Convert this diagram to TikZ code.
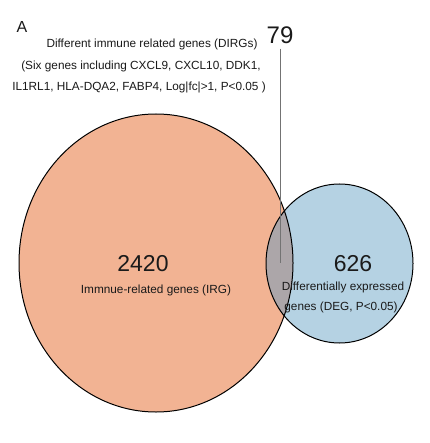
\documentclass[tikz,border=0pt]{standalone}
\usepackage{fontspec}
\setmainfont{Liberation Sans}
\definecolor{irgfill}{HTML}{F2B393}
\definecolor{degfill}{HTML}{B5D2E3}
\definecolor{interfill}{HTML}{ACA6A9}
\definecolor{txt}{HTML}{1A1A1A}
\begin{document}
\begin{tikzpicture}[x=1pt,y=-1pt,
  setline/.style={draw=black,line width=1pt},
  small/.style={font=\fontsize{11.8}{13}\selectfont,text=txt,inner sep=0pt},
  big/.style={font=\fontsize{23}{26}\selectfont,text=txt,inner sep=0pt},
  lead/.style={draw=black!55,line width=0.7pt}]
\useasboundingbox (0,0) rectangle (429,443);
\fill[white] (0,0) rectangle (429,443);
% circles
\fill[irgfill] (156,263) ellipse [x radius=137, y radius=149];
\fill[degfill] (339.5,263.5) ellipse [x radius=73.5, y radius=79.5];
\begin{scope}
  \clip (339.5,263.5) ellipse [x radius=73.5, y radius=79.5];
  \fill[interfill] (156,263) ellipse [x radius=137, y radius=149];
\end{scope}
\draw[setline] (156,263) ellipse [x radius=137, y radius=149];
\draw[setline] (339.5,263.5) ellipse [x radius=73.5, y radius=79.5];
% texts
\node[font=\fontsize{16}{18}\selectfont,text=txt,inner sep=0pt] (lblA) at (22,27) {A};
\node[font=\fontsize{24}{27}\selectfont,text=txt,inner sep=0pt] (n79) at (280,35) {79};
\node[small] (t1) at (152,44) {Different immune related genes (DIRGs)};
\node[small] (t2) at (141,66) {(Six genes including CXCL9, CXCL10, DDK1,};
\node[small] (t3) at (139,87) {IL1RL1, HLA-DQA2, FABP4, Log|fc|>1, P<0.05 )};
\node[big] (n2420) at (143,264) {2420};
\node[small] (irg) at (156,290) {Immnue-related genes (IRG)};
\node[big] (n626) at (353,264) {626};
\node[small] (deg1) at (343,287) {Differentially expressed};
\node[small] (deg2) at (341,307) {genes (DEG, P<0.05)};
% leader line
\coordinate (leadend) at (280,263);
\draw[lead] ([yshift=-5pt]n79.south) -- (leadend);
\end{tikzpicture}
\end{document}
